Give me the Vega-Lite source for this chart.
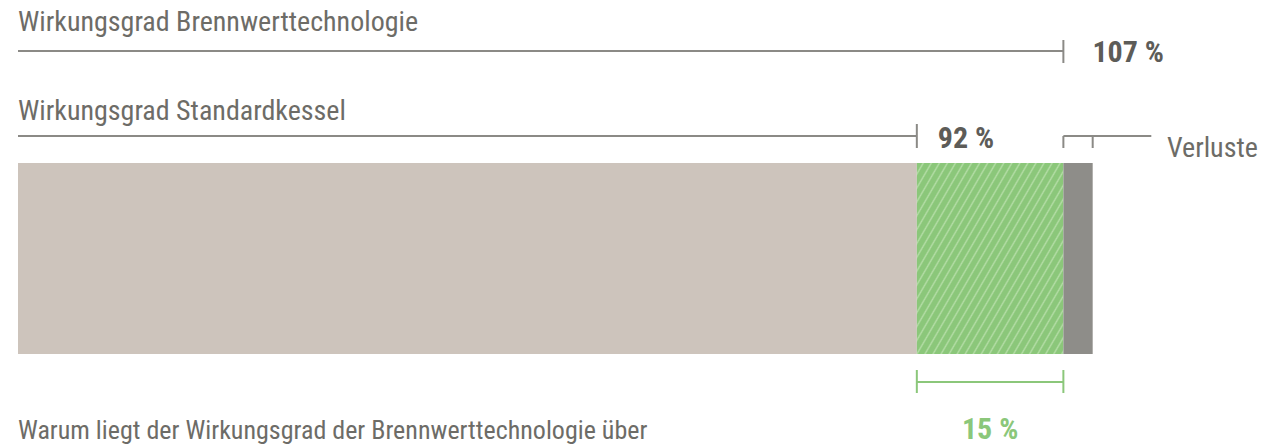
{
  "$schema": "https://vega.github.io/schema/vega-lite/v6.json",
  "width": 1262,
  "height": 446,
  "autosize": "none",
  "padding": 0,
  "background": "#ffffff",
  "config": {"view": {"stroke": null}, "text": {"font": "Roboto Condensed, Open Sans Condensed, sans-serif"}},
  "data": {
    "values": [
      {"segment": "Standardkessel", "start": 0, "end": 92, "label": "92 %"},
      {"segment": "Brennwert", "start": 92, "end": 107, "label": "15 %"},
      {"segment": "Verluste", "start": 107, "end": 110, "label": "Verluste"}
    ]
  },
  "layer": [
    {
      "transform": [{"filter": "datum.segment == 'Standardkessel'"}],
      "mark": {"type": "rect", "fill": "#cdc4bc"},
      "encoding": {
        "x": {"field": "start", "type": "quantitative", "scale": {"domain": [-1.842, 127.33], "nice": false, "zero": false}, "axis": null},
        "x2": {"field": "end"},
        "y": {"datum": 163, "type": "quantitative", "scale": {"domain": [0, 446], "reverse": true, "nice": false, "zero": false}, "axis": null},
        "y2": {"datum": 354}
      }
    },
    {
      "transform": [{"filter": "datum.segment == 'Brennwert'"}],
      "mark": {"type": "rect", "fill": {"gradient": "linear", "x1": 0, "y1": 0, "x2": 1.117, "y2": 0.846, "stops": [
        {"offset": 0, "color": "#8bc77a"}, {"offset": 0.0188, "color": "#8bc77a"}, {"offset": 0.025, "color": "#b4dda6"},
        {"offset": 0.0313, "color": "#8bc77a"}, {"offset": 0.05, "color": "#8bc77a"}, {"offset": 0.0563, "color": "#b4dda6"},
        {"offset": 0.0625, "color": "#8bc77a"}, {"offset": 0.0813, "color": "#8bc77a"}, {"offset": 0.0875, "color": "#b4dda6"},
        {"offset": 0.0938, "color": "#8bc77a"}, {"offset": 0.1125, "color": "#8bc77a"}, {"offset": 0.1188, "color": "#b4dda6"},
        {"offset": 0.125, "color": "#8bc77a"}, {"offset": 0.1438, "color": "#8bc77a"}, {"offset": 0.15, "color": "#b4dda6"},
        {"offset": 0.1563, "color": "#8bc77a"}, {"offset": 0.175, "color": "#8bc77a"}, {"offset": 0.1813, "color": "#b4dda6"},
        {"offset": 0.1875, "color": "#8bc77a"}, {"offset": 0.2063, "color": "#8bc77a"}, {"offset": 0.2125, "color": "#b4dda6"},
        {"offset": 0.2188, "color": "#8bc77a"}, {"offset": 0.2375, "color": "#8bc77a"}, {"offset": 0.2438, "color": "#b4dda6"},
        {"offset": 0.25, "color": "#8bc77a"}, {"offset": 0.2688, "color": "#8bc77a"}, {"offset": 0.275, "color": "#b4dda6"},
        {"offset": 0.2813, "color": "#8bc77a"}, {"offset": 0.3, "color": "#8bc77a"}, {"offset": 0.3063, "color": "#b4dda6"},
        {"offset": 0.3125, "color": "#8bc77a"}, {"offset": 0.3313, "color": "#8bc77a"}, {"offset": 0.3375, "color": "#b4dda6"},
        {"offset": 0.3438, "color": "#8bc77a"}, {"offset": 0.3625, "color": "#8bc77a"}, {"offset": 0.3688, "color": "#b4dda6"},
        {"offset": 0.375, "color": "#8bc77a"}, {"offset": 0.3938, "color": "#8bc77a"}, {"offset": 0.4, "color": "#b4dda6"},
        {"offset": 0.4063, "color": "#8bc77a"}, {"offset": 0.425, "color": "#8bc77a"}, {"offset": 0.4313, "color": "#b4dda6"},
        {"offset": 0.4375, "color": "#8bc77a"}, {"offset": 0.4563, "color": "#8bc77a"}, {"offset": 0.4625, "color": "#b4dda6"},
        {"offset": 0.4688, "color": "#8bc77a"}, {"offset": 0.4875, "color": "#8bc77a"}, {"offset": 0.4938, "color": "#b4dda6"},
        {"offset": 0.5, "color": "#8bc77a"}, {"offset": 0.5188, "color": "#8bc77a"}, {"offset": 0.525, "color": "#b4dda6"},
        {"offset": 0.5313, "color": "#8bc77a"}, {"offset": 0.55, "color": "#8bc77a"}, {"offset": 0.5563, "color": "#b4dda6"},
        {"offset": 0.5625, "color": "#8bc77a"}, {"offset": 0.5813, "color": "#8bc77a"}, {"offset": 0.5875, "color": "#b4dda6"},
        {"offset": 0.5938, "color": "#8bc77a"}, {"offset": 0.6125, "color": "#8bc77a"}, {"offset": 0.6188, "color": "#b4dda6"},
        {"offset": 0.625, "color": "#8bc77a"}, {"offset": 0.6438, "color": "#8bc77a"}, {"offset": 0.65, "color": "#b4dda6"},
        {"offset": 0.6563, "color": "#8bc77a"}, {"offset": 0.675, "color": "#8bc77a"}, {"offset": 0.6813, "color": "#b4dda6"},
        {"offset": 0.6875, "color": "#8bc77a"}, {"offset": 0.7063, "color": "#8bc77a"}, {"offset": 0.7125, "color": "#b4dda6"},
        {"offset": 0.7188, "color": "#8bc77a"}, {"offset": 0.7375, "color": "#8bc77a"}, {"offset": 0.7438, "color": "#b4dda6"},
        {"offset": 0.75, "color": "#8bc77a"}, {"offset": 0.7688, "color": "#8bc77a"}, {"offset": 0.775, "color": "#b4dda6"},
        {"offset": 0.7813, "color": "#8bc77a"}, {"offset": 0.8, "color": "#8bc77a"}, {"offset": 0.8063, "color": "#b4dda6"},
        {"offset": 0.8125, "color": "#8bc77a"}, {"offset": 0.8313, "color": "#8bc77a"}, {"offset": 0.8375, "color": "#b4dda6"},
        {"offset": 0.8438, "color": "#8bc77a"}, {"offset": 0.8625, "color": "#8bc77a"}, {"offset": 0.8688, "color": "#b4dda6"},
        {"offset": 0.875, "color": "#8bc77a"}, {"offset": 0.8938, "color": "#8bc77a"}, {"offset": 0.9, "color": "#b4dda6"},
        {"offset": 0.9063, "color": "#8bc77a"}, {"offset": 0.925, "color": "#8bc77a"}, {"offset": 0.9313, "color": "#b4dda6"},
        {"offset": 0.9375, "color": "#8bc77a"}, {"offset": 0.9563, "color": "#8bc77a"}, {"offset": 0.9625, "color": "#b4dda6"},
        {"offset": 0.9688, "color": "#8bc77a"}, {"offset": 0.9875, "color": "#8bc77a"}, {"offset": 0.9938, "color": "#b4dda6"},
        {"offset": 1, "color": "#8bc77a"}
      ]}},
      "encoding": {
        "x": {"field": "start", "type": "quantitative"},
        "x2": {"field": "end"},
        "y": {"datum": 163, "type": "quantitative"},
        "y2": {"datum": 354}
      }
    },
    {
      "transform": [{"filter": "datum.segment == 'Verluste'"}],
      "mark": {"type": "rect", "fill": "#8e8d89"},
      "encoding": {
        "x": {"field": "start", "type": "quantitative"},
        "x2": {"field": "end"},
        "y": {"datum": 163, "type": "quantitative"},
        "y2": {"datum": 354}
      }
    },
    {
      "transform": [{"filter": "datum.segment == 'Brennwert'"}],
      "mark": {"type": "rule", "stroke": "#8b8a86", "strokeWidth": 2},
      "encoding": {
        "x": {"field": "end", "type": "quantitative"},
        "x2": {"datum": 0},
        "y": {"datum": 51, "type": "quantitative"}
      }
    },
    {
      "transform": [{"filter": "datum.segment == 'Brennwert'"}],
      "mark": {"type": "rule", "stroke": "#8b8a86", "strokeWidth": 2},
      "encoding": {
        "x": {"field": "end", "type": "quantitative"},
        "y": {"datum": 40, "type": "quantitative"},
        "y2": {"datum": 63}
      }
    },
    {
      "transform": [{"filter": "datum.segment == 'Standardkessel'"}],
      "mark": {"type": "rule", "stroke": "#8b8a86", "strokeWidth": 2},
      "encoding": {
        "x": {"field": "start", "type": "quantitative"},
        "x2": {"field": "end"},
        "y": {"datum": 136, "type": "quantitative"}
      }
    },
    {
      "transform": [{"filter": "datum.segment == 'Standardkessel'"}],
      "mark": {"type": "rule", "stroke": "#8b8a86", "strokeWidth": 2},
      "encoding": {
        "x": {"field": "end", "type": "quantitative"},
        "y": {"datum": 124, "type": "quantitative"},
        "y2": {"datum": 148}
      }
    },
    {
      "transform": [{"filter": "datum.segment == 'Verluste'"}],
      "mark": {"type": "rule", "stroke": "#8b8a86", "strokeWidth": 2},
      "encoding": {
        "x": {"field": "start", "type": "quantitative"},
        "x2": {"datum": 116},
        "y": {"datum": 136, "type": "quantitative"}
      }
    },
    {
      "transform": [{"filter": "datum.segment == 'Verluste'"}],
      "mark": {"type": "rule", "stroke": "#8b8a86", "strokeWidth": 2},
      "encoding": {
        "x": {"field": "start", "type": "quantitative"},
        "y": {"datum": 136, "type": "quantitative"},
        "y2": {"datum": 148}
      }
    },
    {
      "transform": [{"filter": "datum.segment == 'Verluste'"}],
      "mark": {"type": "rule", "stroke": "#8b8a86", "strokeWidth": 2},
      "encoding": {
        "x": {"field": "end", "type": "quantitative"},
        "y": {"datum": 136, "type": "quantitative"},
        "y2": {"datum": 148}
      }
    },
    {
      "transform": [{"filter": "datum.segment == 'Brennwert'"}],
      "mark": {"type": "rule", "stroke": "#8bc77a", "strokeWidth": 2},
      "encoding": {
        "x": {"field": "start", "type": "quantitative"},
        "x2": {"field": "end"},
        "y": {"datum": 382, "type": "quantitative"}
      }
    },
    {
      "transform": [{"filter": "datum.segment == 'Brennwert'"}],
      "mark": {"type": "rule", "stroke": "#8bc77a", "strokeWidth": 2},
      "encoding": {
        "x": {"field": "start", "type": "quantitative"},
        "y": {"datum": 370, "type": "quantitative"},
        "y2": {"datum": 393}
      }
    },
    {
      "transform": [{"filter": "datum.segment == 'Brennwert'"}],
      "mark": {"type": "rule", "stroke": "#8bc77a", "strokeWidth": 2},
      "encoding": {
        "x": {"field": "end", "type": "quantitative"},
        "y": {"datum": 370, "type": "quantitative"},
        "y2": {"datum": 393}
      }
    },
    {
      "transform": [{"filter": "datum.segment == 'Standardkessel'"}],
      "mark": {"type": "text", "align": "left", "baseline": "alphabetic", "fontSize": 28, "fill": "#6d6c67", "text": "Wirkungsgrad Brennwerttechnologie"},
      "encoding": {
        "x": {"field": "start", "type": "quantitative"},
        "y": {"datum": 31, "type": "quantitative"}
      }
    },
    {
      "transform": [{"filter": "datum.segment == 'Standardkessel'"}],
      "mark": {"type": "text", "align": "left", "baseline": "alphabetic", "fontSize": 28, "fill": "#6d6c67", "text": "Wirkungsgrad Standardkessel"},
      "encoding": {
        "x": {"field": "start", "type": "quantitative"},
        "y": {"datum": 120, "type": "quantitative"}
      }
    },
    {
      "transform": [{"filter": "datum.segment == 'Brennwert'"}],
      "mark": {"type": "text", "align": "left", "baseline": "alphabetic", "dx": 29, "fontSize": 30, "fontWeight": "bold", "fill": "#5d5c58", "text": "107 %"},
      "encoding": {
        "x": {"field": "end", "type": "quantitative"},
        "y": {"datum": 62, "type": "quantitative"}
      }
    },
    {
      "transform": [{"filter": "datum.segment == 'Standardkessel'"}],
      "mark": {"type": "text", "align": "left", "baseline": "alphabetic", "dx": 21, "fontSize": 30, "fontWeight": "bold", "fill": "#5d5c58"},
      "encoding": {
        "x": {"field": "end", "type": "quantitative"},
        "y": {"datum": 148, "type": "quantitative"},
        "text": {"field": "label"}
      }
    },
    {
      "transform": [{"filter": "datum.segment == 'Verluste'"}],
      "mark": {"type": "text", "align": "left", "baseline": "alphabetic", "fontSize": 28, "fill": "#6d6c67"},
      "encoding": {
        "x": {"datum": 117.6, "type": "quantitative"},
        "y": {"datum": 157, "type": "quantitative"},
        "text": {"field": "label"}
      }
    },
    {
      "transform": [{"filter": "datum.segment == 'Brennwert'"}],
      "mark": {"type": "text", "align": "center", "baseline": "alphabetic", "fontSize": 30, "fontWeight": "bold", "fill": "#8bc77a"},
      "encoding": {
        "x": {"datum": 99.5, "type": "quantitative"},
        "y": {"datum": 439, "type": "quantitative"},
        "text": {"field": "label"}
      }
    },
    {
      "transform": [{"filter": "datum.segment == 'Standardkessel'"}],
      "mark": {"type": "text", "align": "left", "baseline": "alphabetic", "fontSize": 26, "fill": "#6d6c67", "text": "Warum liegt der Wirkungsgrad der Brennwerttechnologie über"},
      "encoding": {
        "x": {"field": "start", "type": "quantitative"},
        "y": {"datum": 439, "type": "quantitative"}
      }
    }
  ]
}
